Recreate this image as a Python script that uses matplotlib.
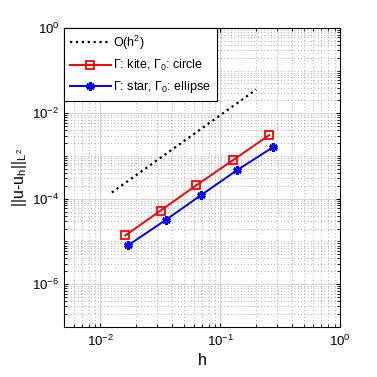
import matplotlib.pyplot as plt
import matplotlib.ticker as mticker

plt.rcParams['font.family'] = ['Liberation Sans', 'DejaVu Sans']
plt.rcParams['mathtext.fontset'] = 'custom'
plt.rcParams['mathtext.rm'] = 'Liberation Sans'
plt.rcParams['mathtext.it'] = 'Liberation Sans'
plt.rcParams['mathtext.default'] = 'regular'

# data
h_kite = [0.0162, 0.032, 0.063, 0.129, 0.257]
err_kite = [1.38e-5, 5.3e-5, 2.05e-4, 8.1e-4, 3.1e-3]
h_star = [0.0172, 0.0353, 0.0695, 0.139, 0.275]
err_star = [8.2e-6, 3.2e-5, 1.22e-4, 4.7e-4, 1.6e-3]
h_ref = [0.0125, 0.2]
err_ref = [1.4e-4, 3.6e-2]

fig = plt.figure(figsize=(3.77, 3.77), dpi=100)
ax = fig.add_axes([0.170, 0.133, 0.732, 0.793])

ax.loglog(h_ref, err_ref, color='k', linestyle=':', linewidth=1.6, label='O(h$^2$)')
ax.loglog(h_kite, err_kite, color='r', linestyle='-', linewidth=1.4, marker='s',
          markersize=5.5, markerfacecolor='none', markeredgewidth=1.3,
          label=r'$\Gamma$: kite, $\Gamma_0$: circle')
ax.loglog(h_star, err_star, color='b', linestyle='-', linewidth=1.4, marker=(6, 2, 0),
          markersize=6, markeredgewidth=2.0,
          label=r'$\Gamma$: star, $\Gamma_0$: ellipse')

ax.set_xlim(0.005, 1)
ax.set_ylim(1e-7, 1)
ax.xaxis.set_major_locator(mticker.LogLocator(base=10, numticks=10))
ax.yaxis.set_major_locator(mticker.FixedLocator([1e-6, 1e-4, 1e-2, 1e0]))
ax.yaxis.set_minor_locator(mticker.LogLocator(base=10, subs=range(1, 10), numticks=20))
ax.yaxis.set_minor_formatter(mticker.NullFormatter())

ax.grid(True, which='major', color='#d4d4d4', linestyle='-', linewidth=0.7)
ax.grid(True, which='minor', color='#9a9a9a', linestyle=(0, (1, 3)), linewidth=0.6)
ax.tick_params(which='both', direction='in', top=True, right=True, labelsize=9.5, length=3)
ax.tick_params(which='minor', length=2)
ax.tick_params(axis='x', pad=5)
for s in ax.spines.values():
    s.set_linewidth(0.8)

ax.set_xlabel('h', fontsize=11.5, labelpad=3)
ax.set_ylabel(r'||u-u$_h$||$_{L^2}$', fontsize=11.5, labelpad=2)

leg = ax.legend(loc='upper left', fontsize=9, borderaxespad=0, fancybox=False,
                edgecolor='k', framealpha=1, handlelength=3.3, handletextpad=0.2,
                borderpad=0.45, labelspacing=0.5)
leg.get_frame().set_linewidth(0.8)

fig.savefig('out.png', dpi=100)
